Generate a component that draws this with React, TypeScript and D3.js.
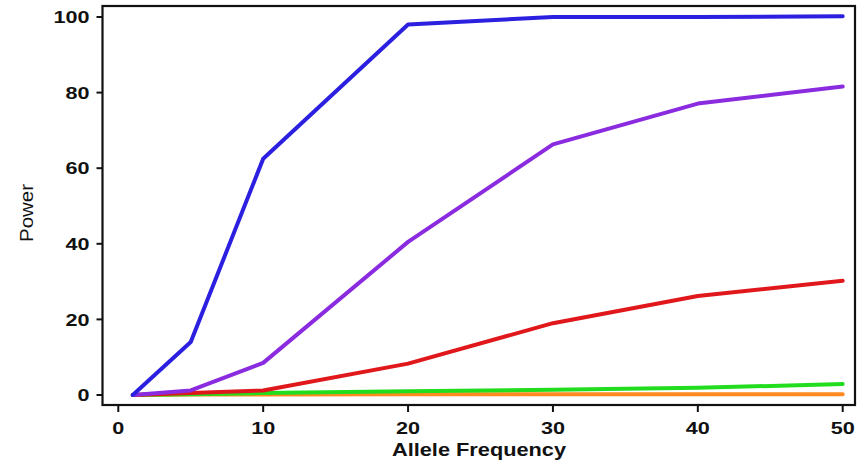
import React, { useEffect, useRef } from 'react';
import * as d3 from 'd3';

const freqs = [1, 5, 10, 20, 30, 40, 50];
const orangePower = [0, 0.1, 0.15, 0.2, 0.2, 0.2, 0.2];
const greenPower = [0, 0.2, 0.5, 1.0, 1.4, 1.9, 2.9];
const redPower = [0, 0.5, 1.2, 8.3, 19, 26.2, 30.2];
const purplePower = [0, 1.2, 8.5, 40.5, 66.3, 77.1, 81.6];
const bluePower = [0, 14, 62.5, 98, 100, 100, 100.2];

const seriesNames = ['orange', 'green', 'red', 'purple', 'blue'];
const seriesValues = [orangePower, greenPower, redPower, purplePower, bluePower];
const colors = ['#ff8a1f', '#22dd1e', '#e0181c', '#8b2be0', '#2b1fe0'];

const xTicks = [0, 10, 20, 30, 40, 50];
const yTicks = [0, 20, 40, 60, 80, 100];

const width = 861;
const height = 466;

// the source picture is stretched sideways, so text gets widened a bit
const stretch = (sel: any, k: number) => {
  sel.each(function (this: SVGTextElement) {
    const w = this.getComputedTextLength();
    this.setAttribute('textLength', String(w * k));
    this.setAttribute('lengthAdjust', 'spacingAndGlyphs');
  });
};

export default function App() {
  const ref = useRef<SVGSVGElement>(null);

  useEffect(() => {
    const svg = d3.select(ref.current);
    svg.selectAll('*').remove();

    const x = d3.scaleLinear().domain([0, 50]).range([118.3, 842.7]);
    const y = d3.scaleLinear().domain([0, 100]).range([395, 17]);

    const left = 102.5, right = 855, top = 6, bottom = 405;

    // lines
    const line = d3.line<number>()
      .x((d, i) => x(freqs[i]))
      .y((d) => y(d));

    svg.append('g')
      .selectAll('path')
      .data(seriesValues)
      .enter()
      .append('path')
      .attr('class', (d, i) => 'line-' + seriesNames[i])
      .attr('d', (d) => line(d))
      .attr('fill', 'none')
      .attr('stroke', (d, i) => colors[i])
      .attr('stroke-width', 4)
      .attr('stroke-linejoin', 'round')
      .attr('stroke-linecap', 'round');

    // frame
    svg.append('rect')
      .attr('x', left)
      .attr('y', top)
      .attr('width', right - left)
      .attr('height', bottom - top)
      .attr('fill', 'none')
      .attr('stroke', '#111')
      .attr('stroke-width', 2.2);

    // y ticks
    const yg = svg.append('g');
    yg.selectAll('line')
      .data(yTicks)
      .enter()
      .append('line')
      .attr('x1', left - 6)
      .attr('x2', left)
      .attr('y1', (d) => y(d))
      .attr('y2', (d) => y(d))
      .attr('stroke', '#111')
      .attr('stroke-width', 2);
    const yLabels = yg.selectAll('text')
      .data(yTicks)
      .enter()
      .append('text')
      .attr('x', 89.5)
      .attr('y', (d) => y(d))
      .attr('dy', '0.36em')
      .attr('text-anchor', 'end')
      .attr('font-family', 'Liberation Sans, Arial, sans-serif')
      .attr('font-weight', 'bold')
      .attr('font-size', 17)
      .attr('fill', '#111')
      .text((d) => d);
    stretch(yLabels, 1.27);

    // x ticks
    const xg = svg.append('g');
    xg.selectAll('line')
      .data(xTicks)
      .enter()
      .append('line')
      .attr('x1', (d) => x(d))
      .attr('x2', (d) => x(d))
      .attr('y1', bottom)
      .attr('y2', bottom + 7)
      .attr('stroke', '#111')
      .attr('stroke-width', 2);
    const xLabels = xg.selectAll('text')
      .data(xTicks)
      .enter()
      .append('text')
      .attr('x', (d) => x(d))
      .attr('y', 434)
      .attr('text-anchor', 'middle')
      .attr('font-family', 'Liberation Sans, Arial, sans-serif')
      .attr('font-weight', 'bold')
      .attr('font-size', 17)
      .attr('fill', '#111')
      .text((d) => d);
    stretch(xLabels, 1.27);

    // axis titles
    const xTitle = svg.append('text')
      .attr('x', 479)
      .attr('y', 456)
      .attr('text-anchor', 'middle')
      .attr('font-family', 'Liberation Sans, Arial, sans-serif')
      .attr('font-weight', 'bold')
      .attr('font-size', 18)
      .attr('fill', '#111')
      .text('Allele Frequency');
    xTitle.attr('textLength', 174).attr('lengthAdjust', 'spacingAndGlyphs');

    svg.append('text')
      .attr('transform', 'translate(33,213) rotate(-90)')
      .attr('text-anchor', 'middle')
      .attr('font-family', 'Liberation Sans, Arial, sans-serif')
      .attr('font-size', 19)
      .attr('fill', '#111')
      .attr('textLength', 58)
      .attr('lengthAdjust', 'spacingAndGlyphs')
      .text('Power');
  }, []);

  return (
    <svg
      ref={ref}
      width={width}
      height={height}
      style={{ position: 'absolute', left: 0, top: 0, background: '#fff' }}
    />
  );
}
